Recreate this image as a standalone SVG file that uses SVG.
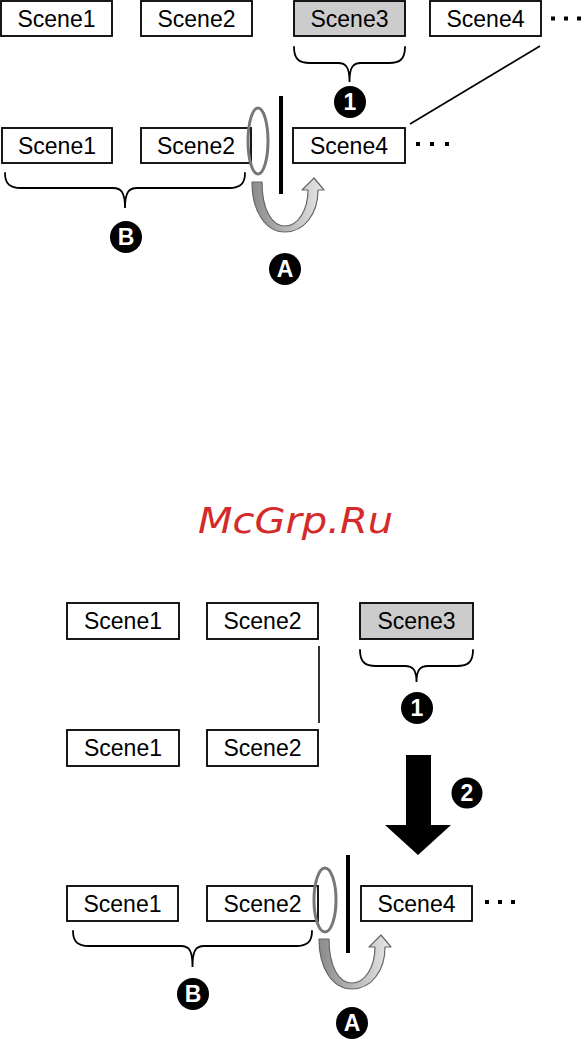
<svg xmlns="http://www.w3.org/2000/svg" width="584" height="1039" viewBox="0 0 584 1039">
<style>
.box{fill:#fff;stroke:#000;stroke-width:1.8}
.sel{fill:#cccccc;stroke:#000;stroke-width:1.8}
.lbl{font-family:"Liberation Sans",Arial,sans-serif;font-size:23px;fill:#000;text-anchor:middle}
.brace{fill:none;stroke:#000;stroke-width:1.8;stroke-linecap:round}
.badge circle{fill:#000}
.badge text{font-family:"Liberation Sans",Arial,sans-serif;font-weight:bold;font-size:23px;fill:#fff;text-anchor:middle}
.dot{fill:#000}
.bar{stroke:#000;stroke-width:4}
.ring{fill:none;stroke:#777;stroke-width:3}
.uarrow{fill:url(#ug);stroke:#666;stroke-width:1.2;stroke-linejoin:round}
</style>
<defs>
<linearGradient id="ug" x1="0" y1="0" x2="1" y2="0">
<stop offset="0" stop-color="#8a8a8a"/>
<stop offset="1" stop-color="#e8e8e8"/>
</linearGradient>
<path id="u" d="M252,182 C252,212 266,232 285,232 C304,232 318,214 318,190 L324,190 L314,178 L302,190 L308,190 C308,210 298,226 285,226 C272,226 262,210 262,182 Z"/>
</defs>
<rect width="584" height="1039" fill="#fff"/>

<!-- ===== Top section ===== -->
<g id="t-r1-scene1"><rect class="box" x="1" y="1" width="111" height="35"/><text class="lbl" x="56.5" y="26.5">Scene1</text></g>
<g id="t-r1-scene2"><rect class="box" x="141" y="1" width="111" height="35"/><text class="lbl" x="196.5" y="26.5">Scene2</text></g>
<g id="t-r1-scene3"><rect class="sel" x="294" y="1" width="111" height="35"/><text class="lbl" x="349.5" y="26.5">Scene3</text></g>
<g id="t-r1-scene4"><rect class="box" x="430" y="1" width="111" height="35"/><text class="lbl" x="485.5" y="26.5">Scene4</text></g>
<g id="t-r1-dots"><rect class="dot" x="551" y="16.5" width="4" height="4"/><rect class="dot" x="564" y="16.5" width="4" height="4"/><rect class="dot" x="577" y="16.5" width="4" height="4"/></g>

<g id="t-r2-scene1"><rect class="box" x="2" y="128" width="110" height="35"/><text class="lbl" x="57" y="153.5">Scene1</text></g>
<g id="t-r2-scene2"><rect class="box" x="141" y="128" width="110" height="35"/><text class="lbl" x="196" y="153.5">Scene2</text></g>
<g id="t-r2-scene4"><rect class="box" x="293" y="128" width="112" height="35"/><text class="lbl" x="349" y="153.5">Scene4</text></g>
<g id="t-r2-dots"><rect class="dot" x="416" y="142" width="4" height="4"/><rect class="dot" x="430" y="142" width="4" height="4"/><rect class="dot" x="445" y="142" width="4" height="4"/></g>

<g id="t-badge1" class="badge"><circle cx="350" cy="102" r="16"/><text x="350" y="110">1</text></g>
<g id="t-badgeB" class="badge"><circle cx="126" cy="237" r="16"/><text x="126" y="245">B</text></g>
<g id="t-badgeA" class="badge"><circle cx="285" cy="269" r="16"/><text x="285" y="277">A</text></g>

<!-- ===== Watermark ===== -->
<g id="watermark"><text x="198" y="533" textLength="195" lengthAdjust="spacingAndGlyphs" font-family="'DejaVu Sans',sans-serif" font-style="italic" font-size="36" fill="#d42a2a">McGrp.Ru</text></g>

<!-- ===== Bottom section ===== -->
<g id="b-r1-scene1"><rect class="box" x="67" y="603" width="112" height="36"/><text class="lbl" x="123" y="629">Scene1</text></g>
<g id="b-r1-scene2"><rect class="box" x="207" y="603" width="111" height="36"/><text class="lbl" x="262.5" y="629">Scene2</text></g>
<g id="b-r1-scene3"><rect class="sel" x="360" y="603" width="113" height="36"/><text class="lbl" x="416.5" y="629">Scene3</text></g>

<g id="b-r2-scene1"><rect class="box" x="67" y="730" width="112" height="36"/><text class="lbl" x="123" y="756">Scene1</text></g>
<g id="b-r2-scene2"><rect class="box" x="207" y="730" width="111" height="36"/><text class="lbl" x="262.5" y="756">Scene2</text></g>

<g id="b-r3-scene1"><rect class="box" x="67" y="886" width="111" height="35"/><text class="lbl" x="122.5" y="911.5">Scene1</text></g>
<g id="b-r3-scene2"><rect class="box" x="207" y="886" width="111" height="35"/><text class="lbl" x="262.5" y="911.5">Scene2</text></g>
<g id="b-r3-scene4"><rect class="box" x="361" y="886" width="111" height="35"/><text class="lbl" x="416.5" y="911.5">Scene4</text></g>
<g id="b-r3-dots"><rect class="dot" x="485" y="900" width="4" height="4"/><rect class="dot" x="498" y="900" width="4" height="4"/><rect class="dot" x="511" y="900" width="4" height="4"/></g>

<g id="b-badge1" class="badge"><circle cx="417" cy="708" r="16"/><text x="417" y="716">1</text></g>
<g id="b-badge2" class="badge"><circle cx="467" cy="793" r="15.5"/><text x="467" y="801">2</text></g>
<g id="b-badgeB" class="badge"><circle cx="193" cy="994" r="16"/><text x="193" y="1002">B</text></g>
<g id="b-badgeA" class="badge"><circle cx="352" cy="1023" r="16"/><text x="352" y="1031">A</text></g>

<!-- ===== Connectors ===== -->
<g id="connectors">
<line x1="540" y1="46" x2="410" y2="124" stroke="#000" stroke-width="1.6"/>
<path class="brace" d="M294,47 C294,59 299,63 310,63 L338,63 C346,63 349.5,67 349.5,82 C349.5,67 353,63 361,63 L389,63 C400,63 405,59 405,47"/>
<path class="brace" d="M5,173 C5,184 10,188 21,188 L113,188 C121,188 125,192 125,208 C125,192 129,188 137,188 L229,188 C240,188 245,184 245,173"/>
<ellipse class="ring" cx="258" cy="141" rx="10" ry="33"/>
<line class="bar" x1="281" y1="96" x2="281" y2="194"/>
<use href="#u" class="uarrow"/>

<path class="brace" d="M360,650 C360,662 365,666 376,666 L405,666 C413,666 416.5,670 416.5,682 C416.5,670 420,666 428,666 L457,666 C468,666 473,662 473,650"/>
<line x1="319" y1="646" x2="319" y2="723" stroke="#000" stroke-width="1.6"/>
<polygon points="406,755 431,755 431,825 451,825 418,855 385,825 406,825" fill="#000"/>
<path class="brace" d="M73,931 C73,942 78,946 89,946 L181,946 C189,946 192.5,950 192.5,967 C192.5,950 196,946 204,946 L296,946 C307,946 312,942 312,931"/>
<ellipse class="ring" cx="325" cy="900" rx="11" ry="32"/>
<line class="bar" x1="348" y1="855" x2="348" y2="953"/>
<use href="#u" class="uarrow" transform="translate(67,757)"/>
</g>
</svg>
